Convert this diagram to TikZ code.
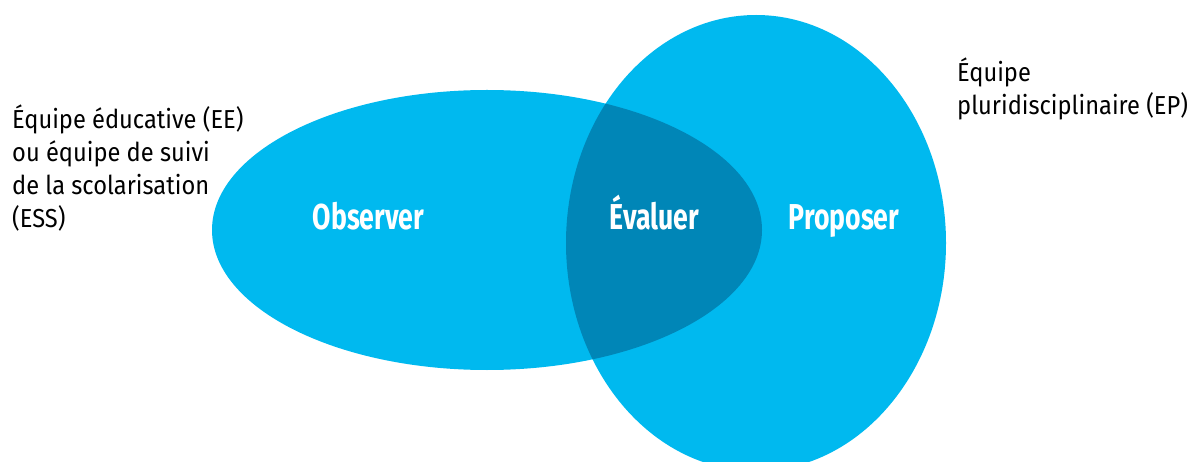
\documentclass[tikz,border=0pt]{standalone}
\usepackage{fontspec}
\setmainfont{Fira Sans}
\newfontfamily\teamfont{Fira Sans}[FakeStretch=0.91]
\newlength{\du}
\setlength{\du}{10\unitlength}
\tikzset{
  teamlabel/.style={inner sep=0pt, align=left, font=\teamfont\fontsize{26}{33}\selectfont},
  steplabel/.style={inner sep=0pt, text=white, font=\fontsize{36}{36}\selectfont\bfseries}
}
\newcommand{\narrow}[1]{\scalebox{0.74}[1]{#1}}
\begin{document}
\begin{tikzpicture}
\pgftransformxscale{1.000000}
\pgftransformyscale{-1.000000}
\useasboundingbox (0\du,0\du) rectangle (119.6\du,46.2\du);
\definecolor{dialinecolor}{rgb}{0.000000, 0.725000, 0.937000}
\pgfsetfillcolor{dialinecolor}
% the two teams
\fill (48.700000\du,23.000000\du) ellipse [x radius=27.500000\du, y radius=14.000000\du];
\fill (75.600000\du,24.300000\du) ellipse [x radius=19.000000\du, y radius=22.800000\du];
% overlap
\definecolor{dialinecolor}{rgb}{0.000000, 0.525000, 0.718000}
\pgfsetfillcolor{dialinecolor}
\begin{scope}
\clip (48.700000\du,23.000000\du) ellipse [x radius=27.500000\du, y radius=14.000000\du];
\fill (75.600000\du,24.300000\du) ellipse [x radius=19.000000\du, y radius=22.800000\du];
\end{scope}
\node[steplabel, anchor=base] (observer) at (36.850000\du,23.000000\du) {\narrow{Observer}};
\node[steplabel, anchor=base] (evaluer) at (65.450000\du,23.000000\du) {\narrow{Évaluer}};
\node[steplabel, anchor=base] (proposer) at (84.400000\du,23.000000\du) {\narrow{Proposer}};
% team names, anchored on the last line
\node[teamlabel, anchor=base west] (ee) at (1.200000\du,22.800000\du) {Équipe éducative (EE)\\ou équipe de suivi\\de la scolarisation\\(ESS)};
\node[teamlabel, anchor=base west] (ep) at (95.700000\du,11.500000\du) {Équipe\\pluridisciplinaire (EP)};
\end{tikzpicture}
\end{document}
